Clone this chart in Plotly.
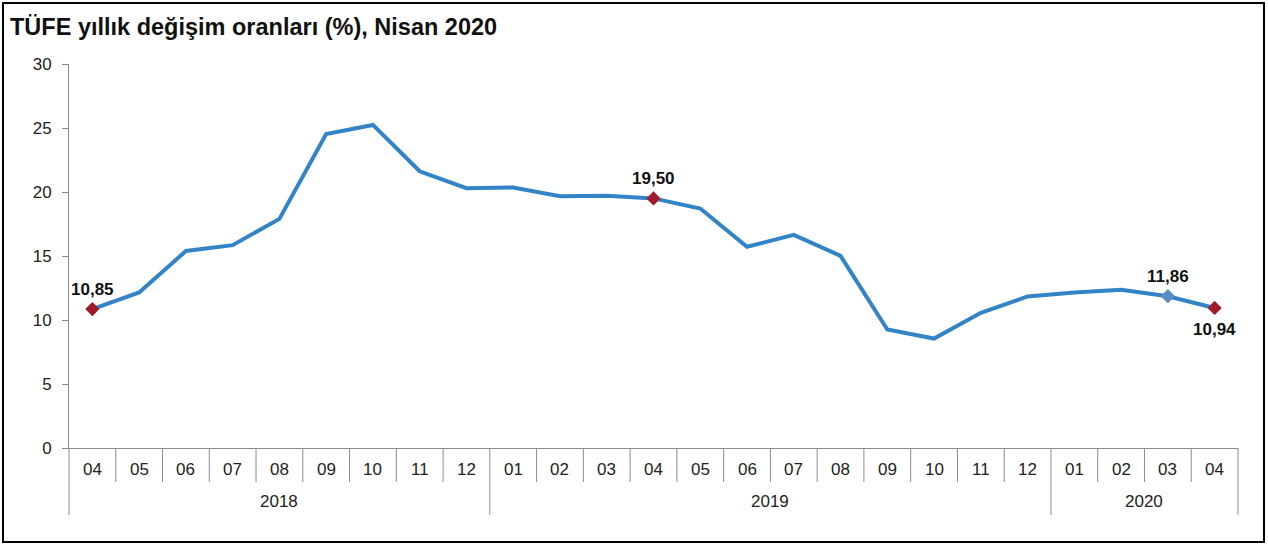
import plotly.graph_objects as go

months = ["04", "05", "06", "07", "08", "09", "10", "11", "12",
          "01", "02", "03", "04", "05", "06", "07", "08", "09", "10", "11", "12",
          "01", "02", "03", "04"]
years = ["2018"] * 9 + ["2019"] * 12 + ["2020"] * 4
values = [10.85, 12.15, 15.39, 15.85, 17.90, 24.52, 25.24, 21.62, 20.30,
          20.35, 19.67, 19.71, 19.50, 18.71, 15.72, 16.65, 15.01, 9.26, 8.55, 10.56, 11.84,
          12.15, 12.37, 11.86, 10.94]
highlight_idx = [0, 12, 23, 24]
highlight_colors = ["#A01C2C", "#A01C2C", "#5A8CC8", "#A01C2C"]
highlight_above = [True, True, True, False]

n = len(values)
xs = list(range(n))
W, H = 1268, 546
ML, MR, MT, MB = 69, 30, 64, 98
PW, PH = W - ML - MR, H - MT - MB
grey = "#8C8C8C"
FONT = "Liberation Sans, Arial, sans-serif"

fig = go.Figure()
fig.add_trace(go.Scatter(x=xs, y=values, mode="lines",
                         line=dict(color="#3384C6", width=4), hoverinfo="skip"))
fig.add_trace(go.Scatter(
    x=[xs[i] for i in highlight_idx], y=[values[i] for i in highlight_idx],
    mode="markers",
    marker=dict(symbol="diamond", size=11, color=highlight_colors),
    hoverinfo="skip",
))

shapes = []
year_bounds = [0]
for i in range(1, n):
    if years[i] != years[i - 1]:
        year_bounds.append(i)
year_bounds.append(n)
for b in year_bounds:
    shapes.append(dict(type="line", xref="paper", yref="paper", x0=b / n, x1=b / n,
                       ysizemode="pixel", yanchor=0, y0=0, y1=-67,
                       line=dict(color=grey, width=1)))
for b in range(1, n):
    if b in year_bounds:
        continue
    shapes.append(dict(type="line", xref="paper", yref="paper", x0=b / n, x1=b / n,
                       ysizemode="pixel", yanchor=0, y0=0, y1=-34,
                       line=dict(color=grey, width=1)))
shapes.append(dict(type="rect", xref="paper", yref="paper",
                   x0=(3 - ML) / PW, x1=(1264 - ML) / PW,
                   y0=(MT + PH - 542) / PH, y1=(MT + PH - 3) / PH,
                   line=dict(color="#000000", width=2)))

annotations = []
for i, above in zip(highlight_idx, highlight_above):
    annotations.append(dict(x=xs[i], y=values[i], xref="x", yref="y",
                            yshift=20 if above else -22, yanchor="middle",
                            text=f"<b>{values[i]:.2f}</b>".replace(".", ","),
                            showarrow=False,
                            font=dict(family=FONT, size=17, color="#111111")))
for i, m in enumerate(months):
    annotations.append(dict(x=i, y=0, xref="x", yref="paper", yshift=-21, text=m,
                            showarrow=False, yanchor="middle",
                            font=dict(family=FONT, size=17, color="#222222")))
for k in range(len(year_bounds) - 1):
    a, b = year_bounds[k], year_bounds[k + 1]
    annotations.append(dict(x=(a + b - 1) / 2, y=0, xref="x", yref="paper", yshift=-53,
                            text=years[a], showarrow=False, yanchor="middle",
                            font=dict(family=FONT, size=17, color="#222222")))

fig.update_layout(
    width=W, height=H, margin=dict(l=ML, r=MR, t=MT, b=MB),
    paper_bgcolor="white", plot_bgcolor="white", showlegend=False,
    title=dict(text="<b>TÜFE yıllık değişim oranları (%), Nisan 2020</b>",
               xref="container", yref="container", x=10 / W, xanchor="left",
               y=1 - 27 / H, yanchor="middle",
               font=dict(family=FONT, size=23.5, color="#111111")),
    xaxis=dict(range=[-0.5, n - 0.5], showgrid=False, zeroline=False,
               showticklabels=False, ticks="", showline=True, linecolor=grey, linewidth=1,
               fixedrange=True),
    yaxis=dict(range=[0, 30], dtick=5, showgrid=False, zeroline=False,
               showline=True, linecolor=grey, linewidth=1, ticks="outside", ticklen=6,
               tickcolor=grey, ticklabelstandoff=7,
               tickfont=dict(family=FONT, size=17, color="#222222")),
    shapes=shapes, annotations=annotations,
)
fig.write_html("out.html", config={"displayModeBar": False},
               post_script="document.body.style.margin='0';document.body.style.overflow='hidden';")
